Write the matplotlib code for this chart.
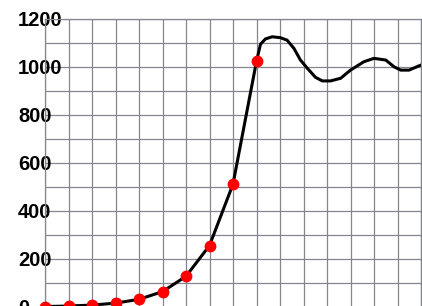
import matplotlib
matplotlib.use("Agg")
import matplotlib.pyplot as plt

# sampled points (red dots), one per grid column
dot_x = [0, 1, 2, 3, 4, 5, 6, 7, 8, 9]
dot_y = [2, 4, 8, 16, 32, 64, 128, 256, 512, 1024]

# black response curve
curve_x = [0, 1, 2, 3, 4, 5, 6, 7, 8, 9, 9.17, 9.38, 9.67, 10.02, 10.3, 10.59, 10.87,
           11.16, 11.51, 11.8, 12.15, 12.58, 13.0, 13.57, 14.0, 14.5, 14.85, 15.14,
           15.49, 15.92, 16.0]
curve_y = [2, 4, 8, 16, 32, 64, 128, 256, 512, 1024, 1095, 1117, 1126, 1122, 1112, 1078,
           1029, 995, 957, 942, 942, 953, 987, 1022, 1036, 1029, 1001, 987,
           987, 1005, 1008]

y_ticks = [0, 200, 400, 600, 800, 1000, 1200]

grid_col = "#868690"

fig = plt.figure(figsize=(4.22, 3.06), dpi=100)
ax = fig.add_axes([45 / 422, -1 / 306, 376 / 422, 288 / 306])

ax.set_xlim(0, 16)
ax.set_ylim(0, 1200)
ax.set_xticks(range(0, 17))
ax.set_yticks(range(0, 1201, 100))
ax.grid(True, color=grid_col, linewidth=0.9)
ax.set_axisbelow(True)
for s in ax.spines.values():
    s.set_color(grid_col)
    s.set_linewidth(0.9)

ax.plot(curve_x, curve_y, color="black", linewidth=2.2, zorder=3,
        solid_joinstyle="round")
ax.plot(dot_x, dot_y, "o", color="#ff0000", markersize=7.5, zorder=4, clip_on=False)

ax.tick_params(axis="x", length=0, labelbottom=False)
ax.tick_params(axis="y", length=0, pad=19.5)
ax.set_yticklabels([str(v) if v in y_ticks else "" for v in range(0, 1201, 100)],
                   fontsize=14.5, fontweight="bold", fontfamily="Liberation Sans")
for lab in ax.get_yticklabels():
    lab.set_horizontalalignment("left")

fig.savefig("out.png", dpi=100)
